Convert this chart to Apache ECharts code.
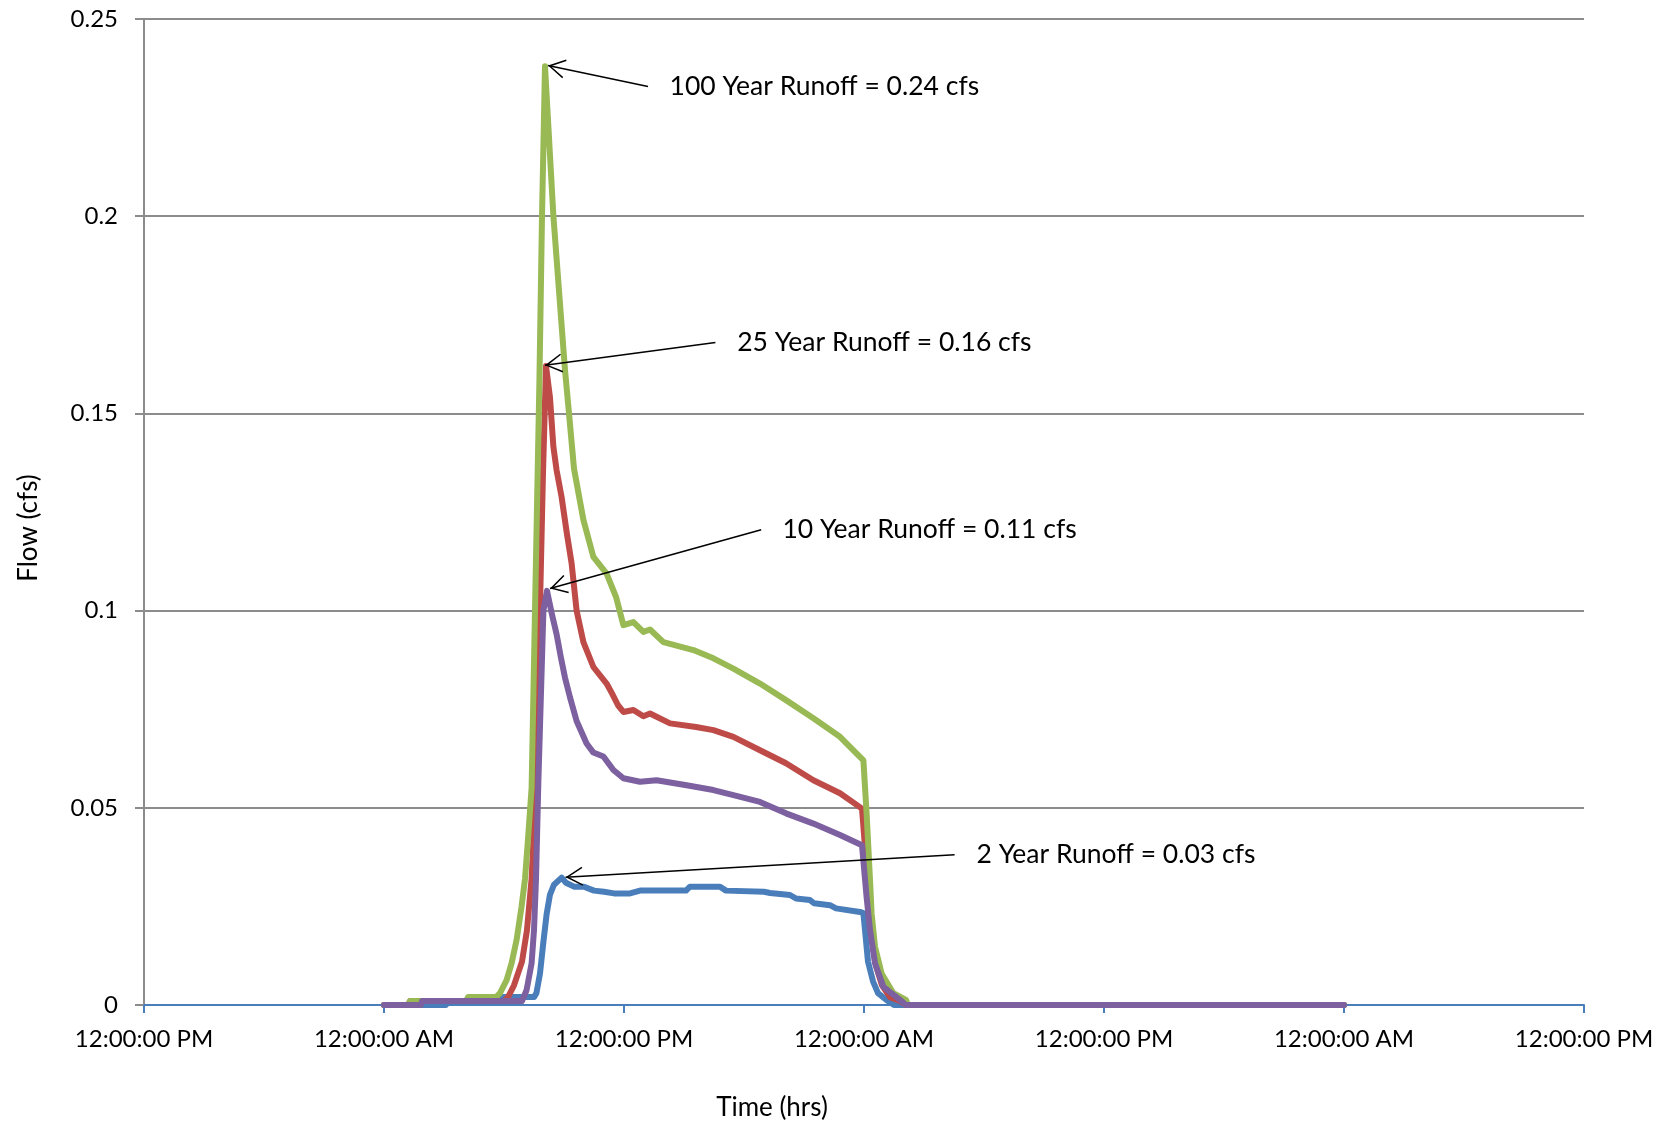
<!DOCTYPE html>
<html>
<head>
<meta charset="utf-8">
<title>Runoff hydrographs</title>
<script src="https://cdn.jsdelivr.net/npm/echarts@6/dist/echarts.min.js"></script>
<style>
  html, body { margin: 0; padding: 0; background: #fff; }
  #chart { width: 1667px; height: 1126px; }
</style>
</head>
<body>
<div id="chart"></div>
<script>
// hours counted from the first axis label (12:00:00 PM), flow in cfs
const xTickLabels = ['12:00:00 PM', '12:00:00 AM', '12:00:00 PM', '12:00:00 AM', '12:00:00 PM', '12:00:00 AM', '12:00:00 PM']

const flow2yr = [
  [12, 0], [15.1, 0], [15.2, 0.001], [17.5, 0.001], [17.6, 0.002], [19.5, 0.002],
  [19.62, 0.003], [19.8, 0.008], [19.97, 0.016], [20.13, 0.023], [20.3, 0.028],
  [20.5, 0.0305], [20.88, 0.0323], [21.1, 0.031], [21.5, 0.030], [22.0, 0.030],
  [22.5, 0.029], [23.0, 0.0287], [23.5, 0.0283], [24.3, 0.0283], [24.8, 0.029],
  [27.1, 0.029], [27.3, 0.030], [28.8, 0.030], [29.1, 0.029], [31.0, 0.0287],
  [31.3, 0.0284], [32.3, 0.0279], [32.6, 0.027], [33.3, 0.0266], [33.5, 0.0258],
  [34.3, 0.0253], [34.6, 0.0245], [35.8, 0.0236], [35.97, 0.0233], [36.05, 0.019],
  [36.2, 0.011], [36.45, 0.006], [36.7, 0.003], [37.2, 0.001], [37.5, 0], [60, 0]
]

const flow25yr = [
  [12, 0], [13.2, 0], [13.3, 0.001], [18.0, 0.001], [18.2, 0.002], [18.5, 0.005],
  [18.9, 0.011], [19.15, 0.019], [19.38, 0.032], [19.55, 0.05], [19.75, 0.09],
  [19.95, 0.135], [20.1, 0.162], [20.3, 0.154], [20.47, 0.1415], [20.63, 0.1356],
  [20.88, 0.1288], [21.13, 0.12], [21.38, 0.112], [21.63, 0.1], [21.97, 0.092],
  [22.47, 0.0857], [23.13, 0.0815], [23.4, 0.079], [23.7, 0.076], [23.97, 0.0743],
  [24.47, 0.0748], [24.97, 0.0732], [25.3, 0.0739], [26.3, 0.0714], [27.6, 0.0705],
  [28.47, 0.0697], [29.47, 0.068], [30.8, 0.0646], [32.1, 0.0613], [33.47, 0.057],
  [34.8, 0.0537], [35.9, 0.0498], [36.05, 0.04], [36.2, 0.028], [36.4, 0.017],
  [36.6, 0.01], [36.9, 0.005], [37.3, 0.002], [37.8, 0.001], [38.1, 0], [60, 0]
]

const flow100yr = [
  [12, 0], [13.2, 0], [13.3, 0.001], [16.1, 0.001], [16.2, 0.002], [17.6, 0.002],
  [17.8, 0.003], [18.13, 0.0063], [18.38, 0.0106], [18.63, 0.0165], [18.88, 0.025],
  [19.05, 0.032], [19.2, 0.042], [19.38, 0.055], [19.55, 0.1], [19.77, 0.158],
  [19.9, 0.2], [20.05, 0.238], [20.47, 0.2], [20.9, 0.171], [21.05, 0.161],
  [21.25, 0.15], [21.5, 0.136], [21.97, 0.123], [22.47, 0.1136], [23.13, 0.1094],
  [23.6, 0.1035], [23.97, 0.0963], [24.47, 0.0971], [24.97, 0.0946], [25.3, 0.0952],
  [25.97, 0.092], [27.47, 0.09], [28.47, 0.0879], [29.47, 0.0853], [30.8, 0.0815],
  [32.1, 0.0773], [33.47, 0.0727], [34.8, 0.068], [35.97, 0.062], [36.13, 0.0486],
  [36.3, 0.0317], [36.38, 0.0232], [36.55, 0.0148], [36.88, 0.008], [37.47, 0.003],
  [38.1, 0.0013], [38.2, 0], [60, 0]
]

const flow10yr = [
  [12, 0], [13.85, 0], [13.9, 0.001], [18.9, 0.001], [19.13, 0.0038], [19.38, 0.0106],
  [19.5, 0.019], [19.6, 0.032], [19.72, 0.057], [19.97, 0.1], [20.15, 0.105],
  [20.4, 0.099], [20.63, 0.094], [20.85, 0.088], [21.05, 0.083], [21.3, 0.078],
  [21.63, 0.072], [22.13, 0.0663], [22.47, 0.064], [22.97, 0.063], [23.47, 0.0596],
  [23.97, 0.0575], [24.8, 0.0566], [25.63, 0.057], [27.13, 0.0557], [28.47, 0.0545],
  [29.47, 0.0532], [30.8, 0.0515], [32.1, 0.0486], [33.47, 0.046], [34.8, 0.0431],
  [35.9, 0.0405], [36.13, 0.0274], [36.3, 0.019], [36.55, 0.0106], [36.97, 0.0046],
  [37.8, 0.0013], [38.1, 0], [60, 0]
]

// callouts: label text, where the leader starts, the peak it points at
const peakNotes = [
  { text: '100 Year Runoff = 0.24 cfs', from: [25.2, 0.2329], to: [20.2, 0.2382] },
  { text: '25 Year Runoff = 0.16 cfs', from: [28.57, 0.168], to: [20.05, 0.1622] },
  { text: '10 Year Runoff = 0.11 cfs', from: [30.86, 0.1205], to: [20.3, 0.1056] },
  { text: '2 Year Runoff = 0.03 cfs', from: [40.53, 0.0381], to: [21.08, 0.0324] }
]

const font = 'Lato, "Open Sans", sans-serif'
const gridGray = '#8c8c8c'
const axisBlue = '#4a7ebb'

// open "<" arrow head, tip at the centre of its box so it lands on the peak
const openArrow = 'path://M10,0 L19.5,16.5 L18.2,17.25 L10,3 L1.8,17.25 L0.5,16.5 Z M10,-17.25 L10.01,-17.25 L10,-17.24 Z'

const lineSeries = (name, data, color) => ({
  name,
  type: 'line',
  data,
  showSymbol: false,
  symbol: 'none',
  lineStyle: { color, width: 6, join: 'round', cap: 'round' },
  itemStyle: { color },
  emphasis: { disabled: true }
})

const chart = echarts.init(document.getElementById('chart'), null, { renderer: 'canvas' })

const series = [
  lineSeries('2 Year', flow2yr, '#4a7ebb'),
  lineSeries('25 Year', flow25yr, '#be4b48'),
  lineSeries('100 Year', flow100yr, '#98b954'),
  lineSeries('10 Year', flow10yr, '#7d60a0')
]

series[3].markLine = {
  silent: true,
  symbol: ['none', openArrow],
  symbolSize: [19, 34.5],
  lineStyle: { color: '#000', width: 1.5, type: 'solid' },
  label: {
    show: true,
    position: 'start',
    distance: [22, 0],
    color: '#000',
    fontFamily: font,
    fontSize: 26.5,
    formatter: p => p.name
  },
  emphasis: { disabled: true },
  data: peakNotes.map(n => [
    { name: n.text, coord: n.from },
    { coord: n.to }
  ])
}

chart.setOption({
  animation: false,
  backgroundColor: '#fff',
  grid: { left: 144, right: 83, top: 19, bottom: 121, outerBoundsMode: 'none' },
  xAxis: {
    type: 'value',
    min: 0,
    max: 72,
    interval: 12,
    name: 'Time (hrs)',
    nameLocation: 'middle',
    nameGap: 90,
    nameTextStyle: { color: '#000', fontFamily: font, fontSize: 26, padding: [0, 184, 0, 0] },
    axisLine: { show: true, lineStyle: { color: axisBlue, width: 2 } },
    axisTick: { show: true, length: 8, lineStyle: { color: axisBlue, width: 2 } },
    axisLabel: {
      color: '#000',
      fontFamily: font,
      fontSize: 24,
      margin: 22,
      formatter: v => xTickLabels[Math.round(v / 12)] || ''
    },
    splitLine: { show: false }
  },
  yAxis: {
    type: 'value',
    min: 0,
    max: 0.25,
    interval: 0.05,
    name: 'Flow (cfs)',
    nameLocation: 'middle',
    nameGap: 102,
    nameRotate: 90,
    nameTextStyle: { color: '#000', fontFamily: font, fontSize: 26, padding: [0, 32, 0, 0] },
    axisLine: { show: true, lineStyle: { color: gridGray, width: 2 } },
    axisTick: { show: true, length: 9, lineStyle: { color: gridGray, width: 2 } },
    axisLabel: { color: '#000', fontFamily: font, fontSize: 24, margin: 26 },
    splitLine: { show: true, lineStyle: { color: gridGray, width: 2 } }
  },
  series
})
</script>
</body>
</html>
